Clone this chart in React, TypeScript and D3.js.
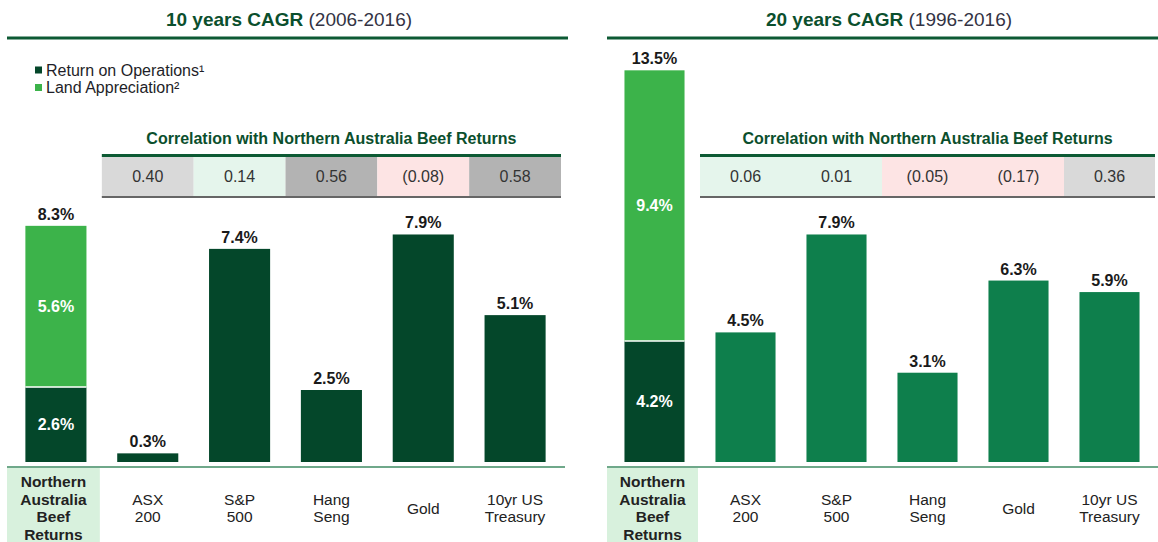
import React from "react";
import * as d3 from "d3";

const categories = ["Northern Australia Beef Returns", "ASX 200", "S&P 500", "Hang Seng", "Gold", "10yr US Treasury"];
const categoryLines = [["Northern", "Australia", "Beef", "Returns"], ["ASX", "200"], ["S&P", "500"], ["Hang", "Seng"], ["Gold"], ["10yr US", "Treasury"]];
const seriesNames = ["Return on Operations¹", "Land Appreciation²"];
const corrTitle = "Correlation with Northern Australia Beef Returns";

const tenYearOperations = 2.6;
const tenYearLand = 5.6;
const tenYearTotal = 8.3;
const tenYearBenchmarks = [0.3, 7.4, 2.5, 7.9, 5.1];
const tenYearCorrelation = [0.40, 0.14, 0.56, -0.08, 0.58];

const twentyYearOperations = 4.2;
const twentyYearLand = 9.4;
const twentyYearTotal = 13.5;
const twentyYearBenchmarks = [4.5, 7.9, 3.1, 6.3, 5.9];
const twentyYearCorrelation = [0.06, 0.01, -0.05, -0.17, 0.36];

const DARK = "#04472a";
const LIGHT = "#3cb34a";
const MID = "#0e7f4c";
const TITLE_GREEN = "#0b4f2d";
const FONT = "'Liberation Sans', Arial, sans-serif";

const fmtPct = (v: number) => v.toFixed(1) + "%";
const fmtCorr = (v: number) => (v < 0 ? "(" + Math.abs(v).toFixed(2) + ")" : v.toFixed(2));
const corrColor = (v: number) => (v < 0 ? "#fde4e4" : v < 0.2 ? "#e5f5ec" : v < 0.5 ? "#d9d9d9" : "#b3b3b3");

const baseY = 462;
const y = d3.scaleLinear().domain([0, 14]).range([baseY, baseY - 14 * 28.8]);

type PanelProps = {
  titleBold: string;
  titleRest: string;
  titleCx: number;
  lineX0: number;
  lineX1: number;
  r0: number;
  r1: number;
  pad: number;
  ops: number;
  land: number;
  total: number;
  bench: number[];
  corr: number[];
  benchColor: string;
  legend: boolean;
};

function Panel(p: PanelProps) {
  const x = d3.scaleBand<string>().domain(categories).range([p.r0, p.r1]).paddingInner(p.pad).paddingOuter(p.pad / 2);
  const bw = x.bandwidth();
  const step = x.step();
  const gap = (step - bw) / 2;
  const tX0 = (x(categories[1]) as number) - gap;
  const tX1 = (x(categories[5]) as number) + bw + gap;
  const nab = x(categories[0]) as number;
  const nabCx = nab + bw / 2;
  return (
    <g>
      <text x={p.titleCx} y={26} textAnchor="middle" fontFamily={FONT} fontSize={19}>
        <tspan fontWeight="bold" fill={TITLE_GREEN}>{p.titleBold}</tspan>
        <tspan fill="#334">{" " + p.titleRest}</tspan>
      </text>
      <rect x={p.lineX0} y={36.5} width={p.lineX1 - p.lineX0} height={3} fill="#0d5a34" />

      {p.legend && seriesNames.map((s, i) => (
        <g key={s}>
          <rect x={35} y={66.5 + i * 17.5} width={7} height={7} fill={i === 0 ? DARK : LIGHT} />
          <text x={46} y={75.5 + i * 17.5} fontFamily={FONT} fontSize={16} fill="#1e1e28">{s}</text>
        </g>
      ))}

      <text x={(tX0 + tX1) / 2} y={144} textAnchor="middle" fontFamily={FONT} fontSize={16} fontWeight="bold" fill={TITLE_GREEN}>{corrTitle}</text>
      {p.corr.map((v, i) => {
        const cx = (x(categories[i + 1]) as number) - gap;
        return (
          <g key={i}>
            <rect x={cx} y={156} width={step} height={41} fill={corrColor(v)} />
            <text x={cx + step / 2} y={182} textAnchor="middle" fontFamily={FONT} fontSize={16} fill="#333">{fmtCorr(v)}</text>
          </g>
        );
      })}
      <rect x={tX0} y={154} width={tX1 - tX0} height={3} fill="#0d5a34" />
      <rect x={tX0} y={196} width={tX1 - tX0} height={2} fill="#666" />

      <rect x={nab} y={y(p.ops)} width={bw} height={baseY - y(p.ops)} fill={DARK} />
      <rect x={nab} y={y(p.ops + p.land)} width={bw} height={y(p.ops) - y(p.ops + p.land)} fill={LIGHT} />
      <line x1={nab} x2={nab + bw} y1={y(p.ops)} y2={y(p.ops)} stroke="#fff" strokeWidth={1.5} />
      <text x={nabCx} y={(y(p.ops) + baseY) / 2 + 5.5} textAnchor="middle" fontFamily={FONT} fontSize={16} fontWeight="bold" fill="#fff">{fmtPct(p.ops)}</text>
      <text x={nabCx} y={(y(p.ops) + y(p.ops + p.land)) / 2 + 5.5} textAnchor="middle" fontFamily={FONT} fontSize={16} fontWeight="bold" fill="#fff">{fmtPct(p.land)}</text>
      <text x={nabCx} y={y(p.ops + p.land) - 6} textAnchor="middle" fontFamily={FONT} fontSize={16} fontWeight="bold" fill="#1a1a1a">{fmtPct(p.total)}</text>

      {p.bench.map((v, i) => {
        const bx = x(categories[i + 1]) as number;
        return (
          <g key={i}>
            <rect x={bx} y={y(v)} width={bw} height={baseY - y(v)} fill={p.benchColor} />
            <text x={bx + bw / 2} y={y(v) - 6} textAnchor="middle" fontFamily={FONT} fontSize={16} fontWeight="bold" fill="#1a1a1a">{fmtPct(v)}</text>
          </g>
        );
      })}

      <rect x={p.lineX0} y={468} width={tX0 - 2 - p.lineX0} height={74} fill="#d8f1dd" />
      <rect x={p.lineX0} y={466} width={tX1 + 4 - p.lineX0} height={2} fill="#6fa88a" />

      {categoryLines.map((lines, i) => {
        const cx = (x(categories[i]) as number) + bw / 2;
        const n = lines.length;
        return (
          <text key={i} textAnchor="middle" fontFamily={FONT} fontSize={15.5} fontWeight={i === 0 ? "bold" : "normal"} fill="#222">
            {lines.map((l, j) => (
              <tspan key={j} x={i === 0 ? (p.lineX0 + tX0 - 2) / 2 : cx} y={508 + (j - (n - 1) / 2) * 17.6 + 5.5}>{l}</tspan>
            ))}
          </text>
        );
      })}
    </g>
  );
}

export default function App() {
  return (
    <svg width={1158} height={542} style={{ position: "absolute", left: 0, top: 0, background: "#fff" }}>
      <rect width={1158} height={542} fill="#fff" />
      <Panel titleBold="10 years CAGR" titleRest="(2006-2016)" titleCx={289} lineX0={7} lineX1={568}
        r0={10} r1={561} pad={0.335} ops={tenYearOperations} land={tenYearLand} total={tenYearTotal}
        bench={tenYearBenchmarks} corr={tenYearCorrelation} benchColor={DARK} legend={true} />
      <Panel titleBold="20 years CAGR" titleRest="(1996-2016)" titleCx={889} lineX0={607} lineX1={1158}
        r0={609} r1={1155} pad={0.34} ops={twentyYearOperations} land={twentyYearLand} total={twentyYearTotal}
        bench={twentyYearBenchmarks} corr={twentyYearCorrelation} benchColor={MID} legend={false} />
    </svg>
  );
}
